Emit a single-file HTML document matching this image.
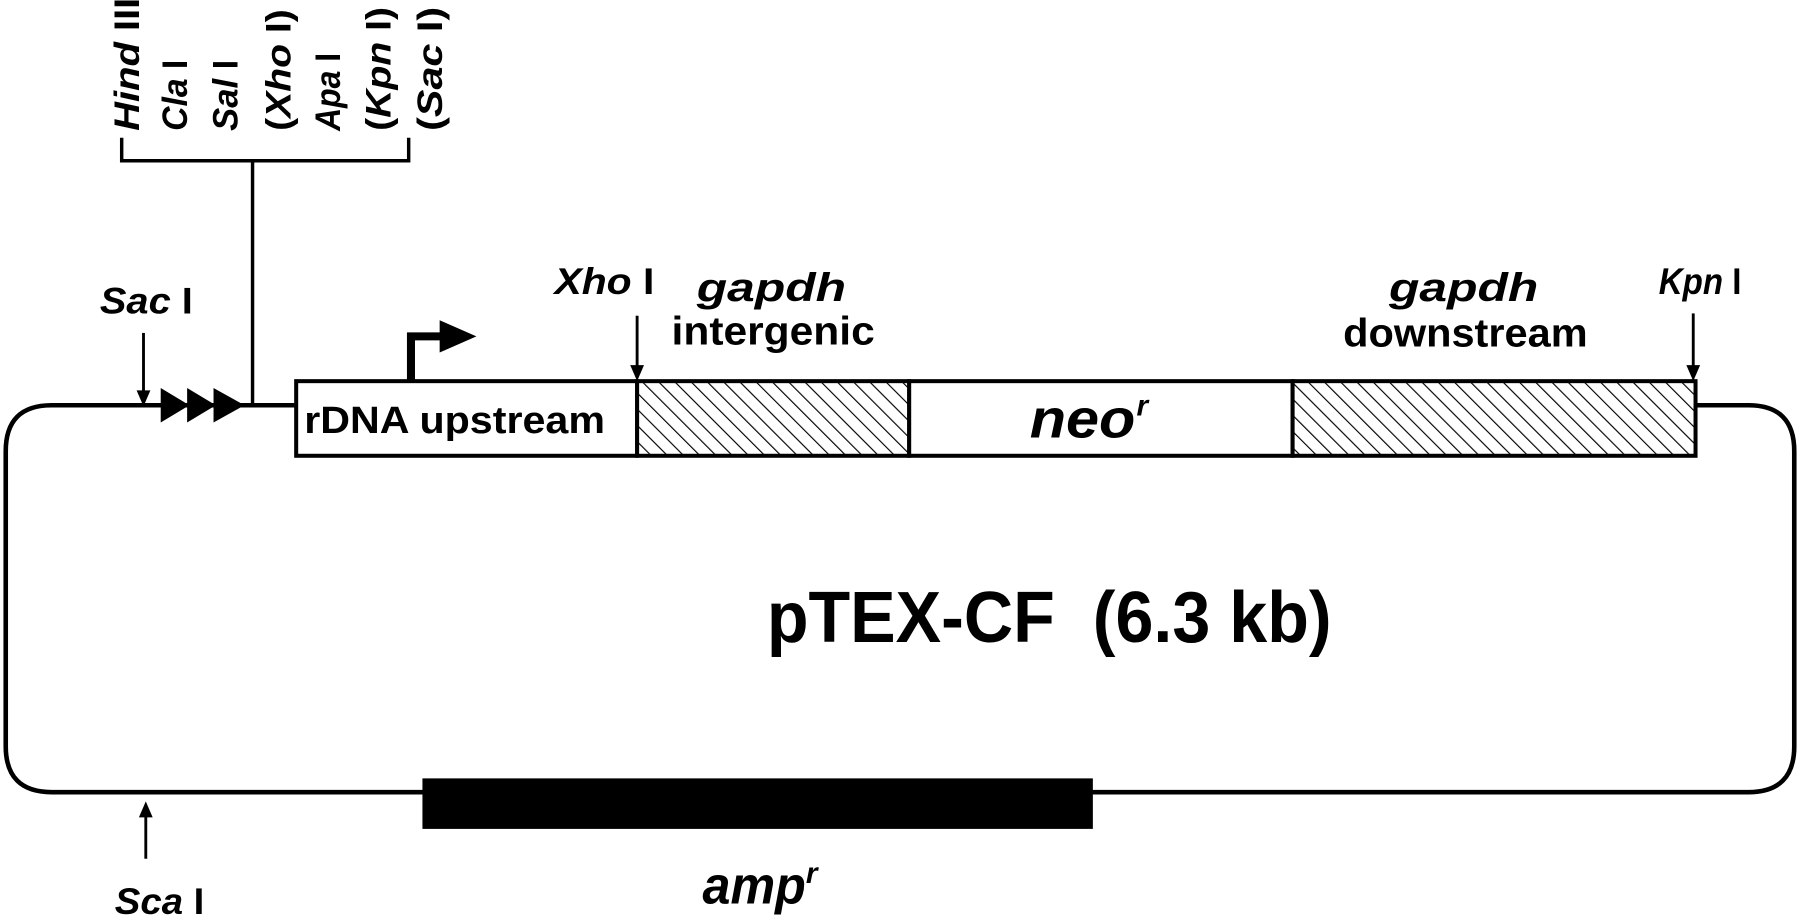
<!DOCTYPE html>
<html><head><meta charset="utf-8"><style>
html,body{margin:0;padding:0;background:#fff}
svg{display:block}
text{font-family:"Liberation Sans",Arial,sans-serif;font-weight:bold;fill:#000}
.i{font-style:italic}
</style></head><body>
<svg width="1800" height="915" viewBox="0 0 1568 797" preserveAspectRatio="none" xmlns="http://www.w3.org/2000/svg">
<defs>
<pattern id="h" patternUnits="userSpaceOnUse" width="10" height="10" patternTransform="rotate(-45)">
<rect width="10" height="10" fill="#fff"/>
<line x1="0" y1="0" x2="0" y2="10" stroke="#000" stroke-width="2"/>
</pattern>
</defs>
<path d="M258 353 H45 Q5 353 5 393 V650 Q5 690 45 690 H1523 Q1563 690 1563 650 V393 Q1563 353 1523 353 H1477" fill="none" stroke="#000" stroke-width="4"/>
<rect x="258" y="332" width="297" height="65" fill="#fff" stroke="#000" stroke-width="3.5"/>
<rect x="555" y="332" width="237" height="65" fill="url(#h)" stroke="#000" stroke-width="3.5"/>
<rect x="792" y="332" width="334" height="65" fill="#fff" stroke="#000" stroke-width="3.5"/>
<rect x="1126" y="332" width="351" height="65" fill="url(#h)" stroke="#000" stroke-width="3.5"/>
<polygon points="140,338 165,353 140,368" fill="#000"/>
<polygon points="163,338 188,353 163,368" fill="#000"/>
<polygon points="186,338 213,353 186,368" fill="#000"/>
<line x1="220" y1="140" x2="220" y2="353" stroke="#000" stroke-width="3"/>
<polyline points="106,120 106,140 356,140 356,120" fill="none" stroke="#000" stroke-width="3"/>
<g font-size="31">
<text transform="translate(121,114) rotate(-90)" textLength="116" lengthAdjust="spacingAndGlyphs"><tspan class="i">Hind</tspan> III</text>
<text transform="translate(163,114) rotate(-90)" textLength="62" lengthAdjust="spacingAndGlyphs"><tspan class="i">Cla</tspan> I</text>
<text transform="translate(207,114) rotate(-90)" textLength="62" lengthAdjust="spacingAndGlyphs"><tspan class="i">Sal</tspan> I</text>
<text transform="translate(253,114) rotate(-90)" textLength="106" lengthAdjust="spacingAndGlyphs">(<tspan class="i">Xho</tspan> I)</text>
<text transform="translate(296,114) rotate(-90)" textLength="68" lengthAdjust="spacingAndGlyphs"><tspan class="i">Apa</tspan> I</text>
<text transform="translate(340,114) rotate(-90)" textLength="108" lengthAdjust="spacingAndGlyphs">(<tspan class="i">Kpn</tspan> I)</text>
<text transform="translate(385,114) rotate(-90)" textLength="108" lengthAdjust="spacingAndGlyphs">(<tspan class="i">Sac</tspan> I)</text>
</g>
<g stroke="#000" stroke-width="2.5">
<line x1="125" y1="290" x2="125" y2="342"/>
<line x1="555" y1="275" x2="555" y2="320"/>
<line x1="1475" y1="273" x2="1475" y2="320"/>
<line x1="127" y1="710" x2="127" y2="748"/>
</g>
<polygon points="119,340 131,340 125,354" fill="#000"/>
<polygon points="549,318 561,318 555,332" fill="#000"/>
<polygon points="1469,318 1481,318 1475,332" fill="#000"/>
<polygon points="121,712 133,712 127,698" fill="#000"/>
<polyline points="358,332 358,293 385,293" fill="none" stroke="#000" stroke-width="7"/>
<polygon points="383,279 415,293 383,307" fill="#000"/>
<rect x="368" y="678" width="584" height="44" fill="#000"/>
<g font-size="32">
<text x="87" y="273" textLength="81" lengthAdjust="spacingAndGlyphs"><tspan class="i">Sac</tspan> I</text>
<text x="483" y="256" textLength="87" lengthAdjust="spacingAndGlyphs"><tspan class="i">Xho</tspan> I</text>
<text x="1445" y="256" textLength="72" lengthAdjust="spacingAndGlyphs"><tspan class="i">Kpn</tspan> I</text>
<text x="100" y="796" textLength="78" lengthAdjust="spacingAndGlyphs"><tspan class="i">Sca</tspan> I</text>
</g>
<g font-size="35">
<text x="607" y="262" textLength="130" lengthAdjust="spacingAndGlyphs" class="i">gapdh</text>
<text x="585" y="300" textLength="177" lengthAdjust="spacingAndGlyphs">intergenic</text>
<text x="1210" y="262" textLength="130" lengthAdjust="spacingAndGlyphs" class="i">gapdh</text>
<text x="1170" y="302" textLength="213" lengthAdjust="spacingAndGlyphs">downstream</text>
</g>
<text x="265" y="377" font-size="33" textLength="262" lengthAdjust="spacingAndGlyphs">rDNA upstream</text>
<text x="897" y="381" font-size="48" textLength="92" lengthAdjust="spacingAndGlyphs" class="i">neo</text>
<text x="990" y="362" font-size="26" class="i">r</text>
<text x="668" y="559" font-size="63" textLength="492" lengthAdjust="spacingAndGlyphs" xml:space="preserve">pTEX-CF  (6.3 kb)</text>
<text x="612" y="787" font-size="46" textLength="90" lengthAdjust="spacingAndGlyphs" class="i">amp</text>
<text x="702" y="769" font-size="26" class="i">r</text>
</svg>
</body></html>
